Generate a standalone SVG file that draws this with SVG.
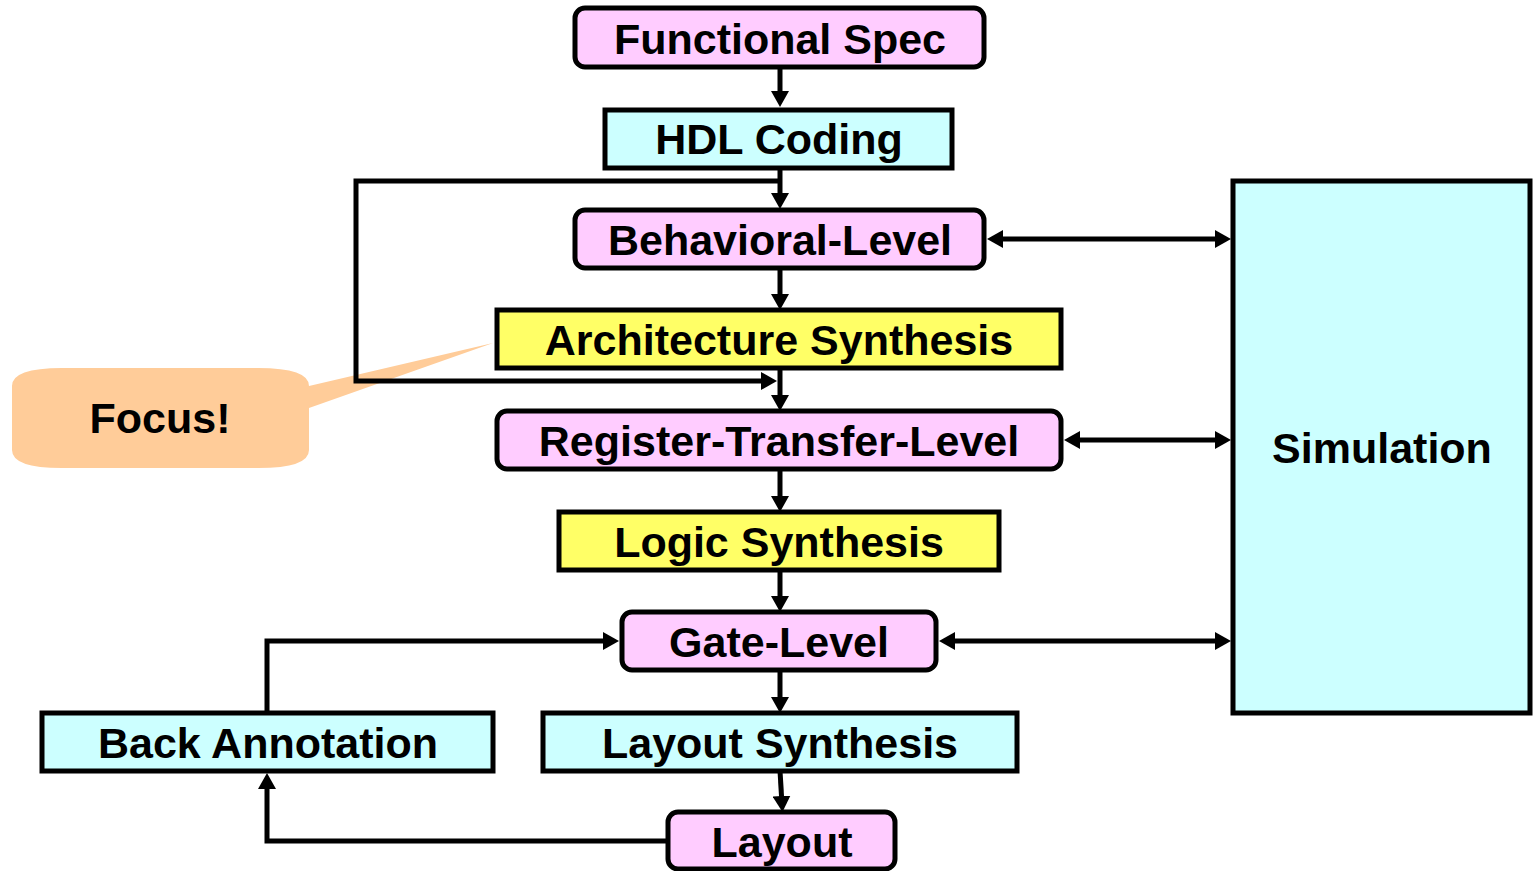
<svg xmlns="http://www.w3.org/2000/svg" width="1533" height="871" viewBox="0 0 1533 871">
  <style>
    .box { stroke: #000; stroke-width: 5; }
    .spec { fill: #FFCCFF; }
    .tool { fill: #CCFFFF; }
    .synth { fill: #FFFF66; }
    .lbl { font-family: "Liberation Sans", Arial, sans-serif; font-weight: bold; font-size: 43px; fill: #000; text-anchor: middle; }
    .wire { fill: none; stroke: #000; stroke-width: 5; }
  </style>
  <defs>
    <marker id="head" viewBox="0 0 16 18" markerWidth="16" markerHeight="18" markerUnits="userSpaceOnUse" refX="8" refY="9" orient="auto-start-reverse">
      <path d="M0,0 L16,9 L0,18 z" fill="#000"/>
    </marker>
  </defs>
  <rect width="1533" height="871" fill="#fff"/>

  <!-- callout -->
  <g id="focus-callout">
    <path d="M62,368 H258 Q309,368 309,386 L493,343 L309,408 V450 Q309,468 258,468 H62 Q12,468 12,450 V386 Q12,368 62,368 Z" fill="#FFCC99"/>
    <text class="lbl" x="160" y="433">Focus!</text>
  </g>

  <!-- connectors -->
  <g id="connectors" class="wire">
    <path d="M780,67 V99" marker-end="url(#head)"/>
    <path d="M780,168 V201" marker-end="url(#head)"/>
    <path d="M780,268 V302" marker-end="url(#head)"/>
    <path d="M780,368 V403" marker-end="url(#head)"/>
    <path d="M780,469 V504" marker-end="url(#head)"/>
    <path d="M780,570 V604" marker-end="url(#head)"/>
    <path d="M780,670 V705" marker-end="url(#head)"/>
    <path d="M780,771 L782,804" marker-end="url(#head)"/>
    <path d="M780,181 H356 V381 H769" marker-end="url(#head)"/>
    <path d="M668,841 H267 V781" marker-end="url(#head)"/>
    <path d="M267,713 V641 H611" marker-end="url(#head)"/>
    <path d="M995,239 H1223" marker-start="url(#head)" marker-end="url(#head)"/>
    <path d="M1072,440 H1223" marker-start="url(#head)" marker-end="url(#head)"/>
    <path d="M947,641 H1223" marker-start="url(#head)" marker-end="url(#head)"/>
  </g>

  <g id="functional-spec">
    <rect class="box spec" x="575" y="8" width="409" height="59" rx="10"/>
    <text class="lbl" x="780" y="54">Functional Spec</text>
  </g>
  <g id="hdl-coding">
    <rect class="box tool" x="605" y="110" width="347" height="58"/>
    <text class="lbl" x="779" y="154">HDL Coding</text>
  </g>
  <g id="behavioral-level">
    <rect class="box spec" x="575" y="210" width="409" height="58" rx="10"/>
    <text class="lbl" x="780" y="255">Behavioral-Level</text>
  </g>
  <g id="architecture-synthesis">
    <rect class="box synth" x="497" y="310" width="564" height="58"/>
    <text class="lbl" x="779" y="355">Architecture Synthesis</text>
  </g>
  <g id="register-transfer-level">
    <rect class="box spec" x="497" y="411" width="564" height="58" rx="10"/>
    <text class="lbl" x="779" y="456">Register-Transfer-Level</text>
  </g>
  <g id="logic-synthesis">
    <rect class="box synth" x="559" y="512" width="440" height="58"/>
    <text class="lbl" x="779" y="557">Logic Synthesis</text>
  </g>
  <g id="gate-level">
    <rect class="box spec" x="622" y="612" width="314" height="58" rx="10"/>
    <text class="lbl" x="779" y="657">Gate-Level</text>
  </g>
  <g id="back-annotation">
    <rect class="box tool" x="42" y="713" width="451" height="58"/>
    <text class="lbl" x="268" y="758">Back Annotation</text>
  </g>
  <g id="layout-synthesis">
    <rect class="box tool" x="543" y="713" width="474" height="58"/>
    <text class="lbl" x="780" y="758">Layout Synthesis</text>
  </g>
  <g id="layout">
    <rect class="box spec" x="668" y="812" width="227" height="57" rx="10"/>
    <text class="lbl" x="782" y="857">Layout</text>
  </g>
  <g id="simulation">
    <rect class="box tool" x="1233" y="181" width="297" height="532"/>
    <text class="lbl" x="1382" y="463">Simulation</text>
  </g>
</svg>
